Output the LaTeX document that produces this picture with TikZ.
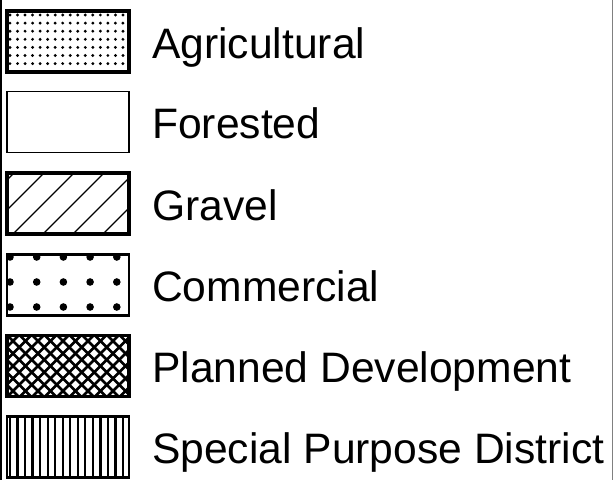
\documentclass[tikz,border=0pt]{standalone}
\usepackage{fontspec}
\setmainfont{Liberation Sans}
\begin{document}
\begin{tikzpicture}[x=1pt,y=-1pt,line join=miter]
\tikzset{box/.style={minimum width=122pt,minimum height=61pt,inner sep=0pt,outer sep=0pt},
lab/.style={anchor=base west,inner sep=0pt,font=\fontsize{42.6}{50}\selectfont}}
\useasboundingbox (0,0) rectangle (613,480);
\draw[line width=1.5pt] (0.75,0)--(0.75,480);
\draw[gray,line width=1.5pt] (612.25,0)--(612.25,480);
\node[box] (agri) at (68,41.5) {};
\node[box] (forest) at (68,122) {};
\node[box] (gravel) at (68,203.5) {};
\node[box] (comm) at (68,285) {};
\node[box] (plan) at (68,366) {};
\node[box] (spd) at (68,447) {};
\begin{scope}
\clip (agri.north west) rectangle (agri.south east);
\foreach \i in {0,...,15}
\foreach \j in {0,...,6}
\fill (10+7.53*\i,15+8.1*\j) circle (1.6pt);
\end{scope}
\begin{scope}
\clip (gravel.north west) rectangle (gravel.south east);
\foreach \s in {-3,...,4}
\draw[line width=1.3pt] (13+30*\s,234)--++(61,-61);
\end{scope}
\begin{scope}
\clip (comm.north west) rectangle (comm.south east);
\foreach \i in {0,...,4}
\foreach \j in {0,1,2}
\fill (10+26.7*\i,257+25*\j) circle (3.8pt);
\end{scope}
\begin{scope}
\clip (plan.north west) rectangle (plan.south east);
\foreach \s in {-6,...,12}{
\draw[line width=2.5pt] (7+12.5*\s,397)--++(62,-62);
\draw[line width=2.5pt] (7+12.5*\s,335)--++(62,62);}
\end{scope}
\begin{scope}
\clip (spd.north west) rectangle (spd.south east);
\foreach \s in {0,...,15}
\draw[line width=2.3pt] (10+7.53*\s,417)--++(0,60);
\end{scope}
\foreach \n/\w in {agri/3.5,forest/1.5,gravel/3.5,comm/2.8,plan/3.5,spd/2.8}
\draw[line width=\w pt] (\n.north west) rectangle (\n.south east);
\node[lab] (lagri) at (152,58) {Agricultural};
\node[lab] (lforest) at (152,138.5) {Forested};
\node[lab] (lgravel) at (152,220) {Gravel};
\node[lab] (lcomm) at (152,301.5) {Commercial};
\node[lab] (lplan) at (152,382.5) {Planned Development};
\node[lab] (lspd) at (152,463.5) {Special Purpose District};
\end{tikzpicture}
\end{document}
